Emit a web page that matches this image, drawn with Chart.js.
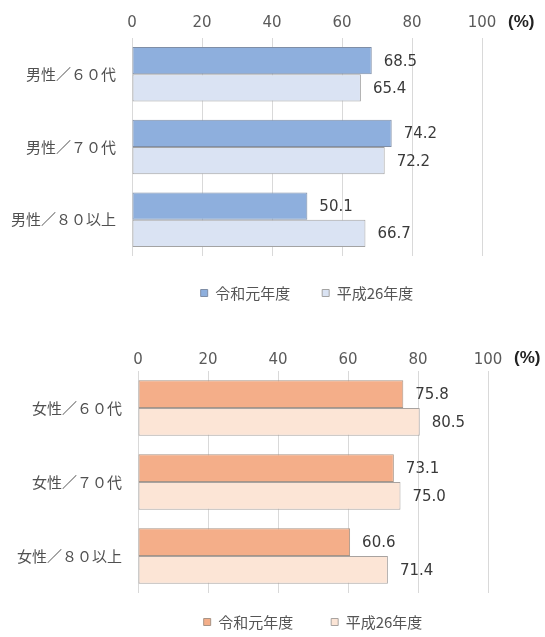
<!DOCTYPE html>
<html>
<head>
<meta charset="utf-8">
<script src="https://cdn.jsdelivr.net/npm/chart.js@4.4.1/dist/chart.umd.min.js"></script>
<style>
  html, body { margin: 0; padding: 0; background: #ffffff; }
  #wrap { position: relative; width: 545px; height: 637px; overflow: hidden; }
  .box { position: absolute; left: 0; width: 545px; }
  .pct { position: absolute; font-family: "Liberation Sans", Arial, sans-serif; font-weight: bold; font-size: 17px; line-height: 17px; color: #222; }
</style>
</head>
<body>
<div id="wrap">
  <div class="box" style="top:0px;height:320px;"><canvas id="male" width="545" height="320"></canvas></div>
  <div class="box" style="top:333px;height:304px;"><canvas id="female" width="545" height="304"></canvas></div>
  <div class="pct" style="left:508px;top:13px;">(%)</div>
  <div class="pct" style="left:514px;top:349px;">(%)</div>
</div>
<script>
// ---- data ----
const seriesNames = ['令和元年度', '平成26年度'];
const xTickValues = [0, 20, 40, 60, 80, 100];

const maleCategories = ['男性／６０代', '男性／７０代', '男性／８０以上'];
const maleReiwa1 = [68.5, 74.2, 50.1];
const maleHeisei26 = [65.4, 72.2, 66.7];

const femaleCategories = ['女性／６０代', '女性／７０代', '女性／８０以上'];
const femaleReiwa1 = [75.8, 73.1, 60.6];
const femaleHeisei26 = [80.5, 75.0, 71.4];

// ---- plugins ----
const valueLabels = {
  id: 'valueLabels',
  afterDatasetsDraw(chart, args, opts) {
    const ctx = chart.ctx;
    ctx.save();
    ctx.font = opts.font;
    ctx.fillStyle = opts.color;
    ctx.textAlign = 'left';
    ctx.textBaseline = 'middle';
    chart.data.datasets.forEach((ds, i) => {
      const meta = chart.getDatasetMeta(i);
      meta.data.forEach((bar, j) => {
        ctx.fillText(Number(ds.data[j]).toFixed(1), bar.x + opts.offset, bar.y + 1);
      });
    });
    ctx.restore();
  }
};

const legendPlacer = {
  id: 'legendPlacer',
  afterLayout(chart, args, opts) {
    const lg = chart.legend;
    if (!lg) return;
    const lab = lg.options.labels;
    const p = lab.padding;
    const ih = Math.max(lab.boxHeight || 0, (lab.font && lab.font.size) || 12);
    const h = p + ih + 14;
    lg.top = opts.centerY - p - ih / 2;
    lg.bottom = lg.top + h;
    lg.height = h;
    lg.left = chart.chartArea.left;
    lg.right = chart.chartArea.right;
    lg.width = lg.right - lg.left;
  }
};

function makeChart(id, cats, s1, s2, colors, cfg) {
  return new Chart(document.getElementById(id), {
    type: 'bar',
    data: {
      labels: cats,
      datasets: [
        { label: seriesNames[0], data: s1, backgroundColor: colors[0], borderColor: colors[2], borderWidth: 1, borderSkipped: false },
        { label: seriesNames[1], data: s2, backgroundColor: colors[1], borderColor: colors[3], borderWidth: 1, borderSkipped: false }
      ]
    },
    options: {
      indexAxis: 'y',
      responsive: false,
      animation: false,
      events: [],
      datasets: { bar: { categoryPercentage: 0.75, barPercentage: 1.0 } },
      layout: { padding: { left: 0, right: cfg.padRight, top: 0, bottom: cfg.padBottom } },
      scales: {
        x: {
          position: 'top',
          min: 0,
          max: 100,
          afterBuildTicks: (s) => { s.ticks = xTickValues.map(v => ({ value: v })); },
          afterFit: (s) => { s.height = cfg.axisTop; },
          grid: { color: '#d9d9d9', lineWidth: 1, drawTicks: false },
          border: { display: false },
          ticks: {
            padding: cfg.tickPad,
            color: '#5a5a5a',
            font: { family: 'DejaVu Sans', size: 15 }
          }
        },
        y: {
          afterFit: (s) => { s.width = cfg.axisLeft; },
          grid: { display: false },
          border: { display: false },
          ticks: {
            padding: 8,
            color: '#505050',
            font: { family: '"Noto Sans CJK JP", sans-serif', size: 15 }
          }
        }
      },
      plugins: {
        tooltip: { enabled: false },
        legend: {
          position: 'bottom',
          maxHeight: 20,
          labels: {
            boxWidth: 7,
            boxHeight: 7,
            padding: cfg.legendGap,
            color: '#555555',
            font: { family: '"Noto Sans CJK JP", sans-serif', size: 15 }
          }
        },
        legendPlacer: { centerY: cfg.legendY },
        valueLabels: { font: '15px "DejaVu Sans"', color: '#3a3a3a', offset: 12 }
      }
    },
    plugins: [valueLabels, legendPlacer]
  });
}

makeChart('male', maleCategories, maleReiwa1, maleHeisei26,
  ['#8eafdd', '#dae3f3', '#7f8ea6', '#a3a3a3'],
  { padRight: 63, padBottom: 44, axisTop: 38, axisLeft: 132, tickPad: 6, legendGap: 32, legendY: 293 });

makeChart('female', femaleCategories, femaleReiwa1, femaleHeisei26,
  ['#f4ae89', '#fce5d6', '#a89486', '#a8a3a0'],
  { padRight: 57, padBottom: 24, axisTop: 38, axisLeft: 138, tickPad: 2, legendGap: 38, legendY: 289 });
</script>
</body>
</html>
